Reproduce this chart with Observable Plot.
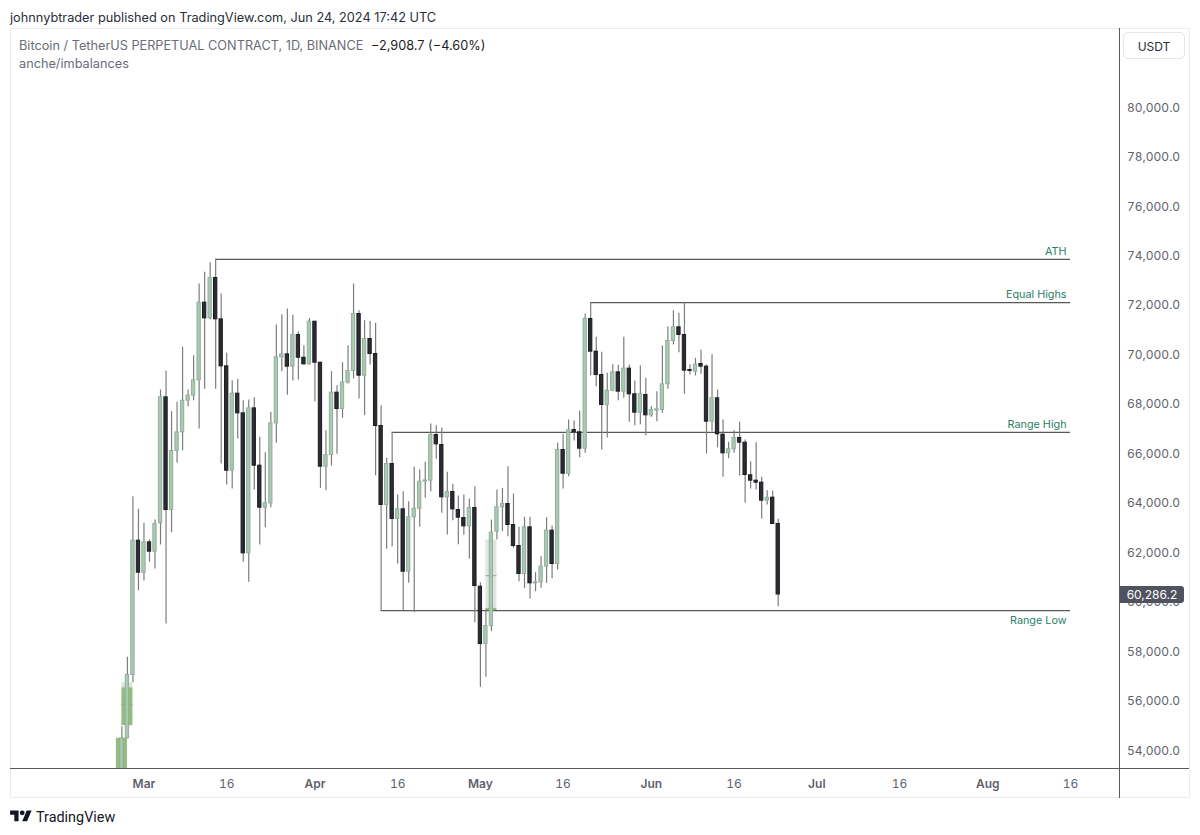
<!DOCTYPE html>
<html><head><meta charset="utf-8">
<script src="https://cdn.jsdelivr.net/npm/d3@7"></script>
<script src="https://cdn.jsdelivr.net/npm/@observablehq/plot@0.6"></script>
<style>
html,body{margin:0;padding:0;background:#fff}
#page{position:relative;width:1200px;height:835px;overflow:hidden;font-family:Inter,Roboto,"Noto Sans",sans-serif}
#page svg{position:absolute;left:0;top:0;background:transparent}
.a{position:absolute;white-space:nowrap}
.frame{background:#e9ebef}
.dark{background:#5a5a5a}
</style></head><body>
<div id="page"></div>
<script>
const publishedBy="johnnybtrader published on TradingView.com, Jun 24, 2024 17:42 UTC";
const symbolTitle="Bitcoin / TetherUS PERPETUAL CONTRACT, 1D, BINANCE";
const changeText="−2,908.7 (−4.60%)";
const noteText="anche/imbalances";
const currency="USDT";
const firstDay="2024-02-26";
const opens=[51700,54469,57030,62462,61168,62395,62018,63163,68258,63702,
66088,66843,68123,68326,68946,72087,71453,73084,71413,69512,
65293,68407,67611,61950,67813,65495,63797,63972,67207,69876,
69997,69499,70779,69862,69593,71318,69660,65455,65926,68447,
67787,68852,69324,71629,69135,70618,70011,67100,63905,65563,
63338,63729,61208,63406,63756,64850,64889,66735,66331,64215,
64430,63702,63379,63042,63783,60602,58283,59011,62826,63810,
63945,63096,62246,61114,63001,60737,60777,61411,62867,61519,
66130,65172,66938,66844,66183,71427,70106,69163,67949,68529,
69270,68489,69419,68381,67639,68354,67531,67720,67747,68785,
70538,71090,70780,69365,69297,69607,69500,67275,68219,66750,
65995,66157,66615,66426,65105,64889,64809,64081,64202,63137];
const highs=[54940,57744,64241,63729,63163,62490,63300,68555,69323,67679,
68056,70280,68555,69943,72842,73313,73704,73839,72437,70038,
68932,68986,68123,68150,68245,66641,66021,67652,71184,71601,
71831,71574,70914,70348,71453,71318,69660,66910,69296,68730,
69661,70348,72842,71764,71359,71332,71252,67922,65792,66843,
64309,64444,64039,65428,65320,65630,67180,67113,67018,65226,
64740,64269,64309,64147,64646,60764,59658,63298,64511,64579,
65455,64349,63001,63406,63406,61168,61815,63392,63055,66399,
66763,67343,67302,67707,71629,72088,70686,70079,69230,69580,
69553,70686,69567,68920,69527,69028,67882,68489,70335,71117,
71764,71656,72088,69580,69837,70174,69567,69985,68556,67343,
66440,66911,67248,66534,65658,66426,65024,64485,64472,63326];
const lows=[50900,54450,56720,60440,60831,61586,61317,62287,59092,62785,
65589,66102,67881,68123,66978,68582,71386,68582,65562,64713,
64551,66573,61586,60777,64511,62287,62981,63797,66398,69296,
68339,68919,68959,69566,69566,68083,64578,64484,65481,65953,
67410,68798,69000,68192,67518,69567,65091,59631,62112,62220,
61519,59631,60737,59550,63001,64174,64444,65751,63568,62691,
63271,62300,62678,61707,59146,56531,56935,58782,62489,62826,
62624,62152,60804,60535,60103,60400,60535,60737,60925,61277,
64552,65051,66494,65820,65995,69136,68691,66130,66615,68489,
68125,68219,67248,67114,67154,66696,67451,67275,67612,68583,
70376,70066,68381,69163,69122,69190,65968,66871,66224,65024,
65779,65995,65078,63973,64552,64512,63339,63905,63137,59794];
const closes=[54469,57030,62462,61168,62395,62018,63136,68258,63702,66088,
66843,68123,68326,68946,72087,71453,73084,71413,69512,65293,
68407,67611,61950,67813,65495,63797,63972,67207,69876,69997,
69499,70779,69862,69593,71318,69660,65455,65926,68447,67787,
68852,69324,71629,69135,70618,70011,67100,63905,65563,63338,
63729,61208,63406,63756,64848,64900,66735,66358,64215,64430,
63729,63392,63042,63783,60629,58283,59011,62786,63810,63945,
63096,62246,61114,63001,60737,60777,61411,62867,61519,66130,
65172,66925,66844,66183,71427,70106,69163,67949,68529,69270,
68489,69419,68381,67639,68381,67531,67747,67774,68785,70538,
71090,70780,69338,69324,69580,69500,67275,68219,66763,65995,
66157,66615,66426,65119,64889,64809,64081,64202,63137,60286.2];

const levelNames=["ATH","Equal Highs","Range High","Range Low"];
const levelPrices=[73839,72088,66843,59631];
const levelStarts=["2024-03-14","2024-05-21","2024-04-15","2024-04-13"];
const levelEnd="2024-08-16";
const levelLabelSide=[-1,-1,-1,1];

const zoneStarts=["2024-02-25","2024-02-26","2024-02-26","2024-05-02","2024-05-02"];
const zoneEnds=["2024-02-27","2024-02-28","2024-02-28","2024-05-04","2024-05-04"];
const zoneLows=[50000,54981,56518,59726,59631];
const zoneHighs=[54469,56518,56720,62489,59726];
const zoneFills=["#93bd7c","#93bd7c","#dfe5dd","#e2e5e1","#93bd7c"];
const midDashStarts=["2024-02-26","2024-05-02"];
const midDashEnds=["2024-02-28","2024-05-04"];
const midDashPrices=[55844,61047];

const monthTicks=["2024-03-01","2024-04-01","2024-05-01","2024-07-01","2024-08-01","2024-06-01"];
const monthNames=["Mar","Apr","May","Jul","Aug","Jun"];
const midTicks=["2024-03-16","2024-04-16","2024-05-16","2024-06-16","2024-07-16","2024-08-16"];
const priceTicks=[54000,56000,58000,60000,62000,64000,66000,68000,70000,72000,74000,76000,78000,80000];

const days=d3.utcDay.range(new Date(firstDay),d3.utcDay.offset(new Date(firstDay),opens.length));
const candles=days.map((date,i)=>({date,open:opens[i],high:highs[i],low:lows[i],close:closes[i],up:closes[i]>=opens[i]}));
const levels=levelNames.map((name,i)=>({name,price:levelPrices[i],start:new Date(levelStarts[i]),end:new Date(levelEnd),side:levelLabelSide[i]}));
const zones=zoneStarts.map((s,i)=>({start:new Date(s),end:new Date(zoneEnds[i]),low:zoneLows[i],high:zoneHighs[i],fill:zoneFills[i]}));
const dashes=midDashPrices.map((p,i)=>({price:p,start:new Date(midDashStarts[i]),end:new Date(midDashEnds[i])}));
const halfBody=0.3*864e5;
const font="Inter,Roboto,'Noto Sans',sans-serif";
const axisColor="#5f626b";

const chart=Plot.plot({
  width:1200,height:835,
  marginLeft:9.5,marginRight:81.5,marginTop:27.5,marginBottom:67,
  style:{fontFamily:font,background:"transparent"},
  x:{type:"utc",domain:[new Date("2024-02-05T17:00Z"),new Date("2024-08-24T19:00Z")]},
  y:{domain:[53249,83195]},
  marks:[
    Plot.rect(zones,{x1:"start",x2:"end",y1:"low",y2:"high",fill:"fill",clip:true}),
    Plot.ruleY(dashes,{y:"price",x1:"start",x2:"end",stroke:"#9aa39a",strokeWidth:1,clip:true}),
    Plot.ruleY(levels,{y:"price",x1:"start",x2:"end",stroke:"#585858",strokeWidth:1.2}),
    Plot.ruleX(candles,{x:"date",y1:"low",y2:"high",stroke:"#7b7d7c",strokeWidth:1.2,clip:true}),
    Plot.rect(candles,{
      x1:d=>new Date(+d.date-halfBody),x2:d=>new Date(+d.date+halfBody),
      y1:"open",y2:"close",
      fill:d=>d.up?"#a6cbb0":"#2a2d33",
      stroke:d=>d.up?"#95ad9e":"#1b1c20",strokeWidth:1,clip:true}),
    Plot.text(levels.filter(d=>d.side<0),{x:"end",y:"price",text:"name",textAnchor:"end",dx:-4,dy:-8.2,fill:"#2b8069",fontSize:10.8}),
    Plot.text(levels.filter(d=>d.side>0),{x:"end",y:"price",text:"name",textAnchor:"end",dx:-4,dy:10,fill:"#2b8069",fontSize:10.8}),
    Plot.axisY({anchor:"right",ticks:priceTicks,tickSize:0,tickPadding:8,label:null,color:axisColor,fontSize:12,dy:0.8,
      tickFormat:v=>d3.format(",.1f")(v)}),
    Plot.axisX({anchor:"bottom",ticks:monthTicks.map(d=>new Date(d)),tickSize:0,tickPadding:11,label:null,color:axisColor,fontSize:12,fontWeight:600,
      tickFormat:d=>monthNames[monthTicks.indexOf(d3.utcFormat("%Y-%m-%d")(d))]}),
    Plot.axisX({anchor:"bottom",ticks:midTicks.map(d=>new Date(d)),tickSize:0,tickPadding:11,label:null,color:axisColor,fontSize:12,
      tickFormat:()=>"16"})
  ]
});

const page=document.getElementById("page");
function box(cls,l,t,w,h,extra){const e=document.createElement("div");e.className="a "+cls;e.style.cssText=`left:${l}px;top:${t}px;width:${w}px;height:${h}px;`+(extra||"");page.appendChild(e);return e;}
function label(text,l,t,size,color,extra){const e=document.createElement("div");e.className="a";e.textContent=text;e.style.cssText=`left:${l}px;top:${t}px;font-size:${size}px;line-height:16px;color:${color};`+(extra||"");page.appendChild(e);return e;}

// frame
box("frame",10,28,1179,1);box("frame",10,28,1,770);box("frame",1189,28,1,770);box("frame",10,797,1180,1);
page.appendChild(chart);
box("dark",10,768,1179,1.2);box("dark",1119,28,1.2,770);

label(publishedBy,10,10,12.75,"#2a2e39");
label(symbolTitle,19,38,12.72,"#6a6d78");
label(changeText,371,38,12.72,"#1a1c22");
label(noteText,19,56,12.72,"#6a6d78");

label(currency,1123,32,12,"#2a2e39",`width:62px;height:27px;line-height:27px;text-align:center;border:1px solid #e4e6ec;border-radius:5px;box-sizing:border-box;`);

const lastY=chart.scale("y").apply(closes[closes.length-1]);
label(d3.format(",.1f")(closes[closes.length-1]),1120,lastY-7.5,12,"#fff",`width:64px;height:17px;line-height:17px;text-align:center;background:#50535e;border-radius:0 3px 3px 0;`);

// footer logo
const ns="http://www.w3.org/2000/svg";
const logo=document.createElementNS(ns,"svg");
logo.setAttribute("viewBox","0 0 36 28");logo.setAttribute("width","22");logo.setAttribute("height","17");
logo.style.cssText="left:10px;top:808px;width:22px;height:17px;";
logo.innerHTML='<path fill="#131722" d="M14 22H7V11H0V4h14v18zM28 22h-8l7.5-18h8L28 22z"/><circle fill="#131722" cx="20" cy="8" r="4"/>';
page.appendChild(logo);
label("TradingView",36,810,14.4,"#131722","font-family:Roboto,sans-serif;");
</script>
</body></html>
